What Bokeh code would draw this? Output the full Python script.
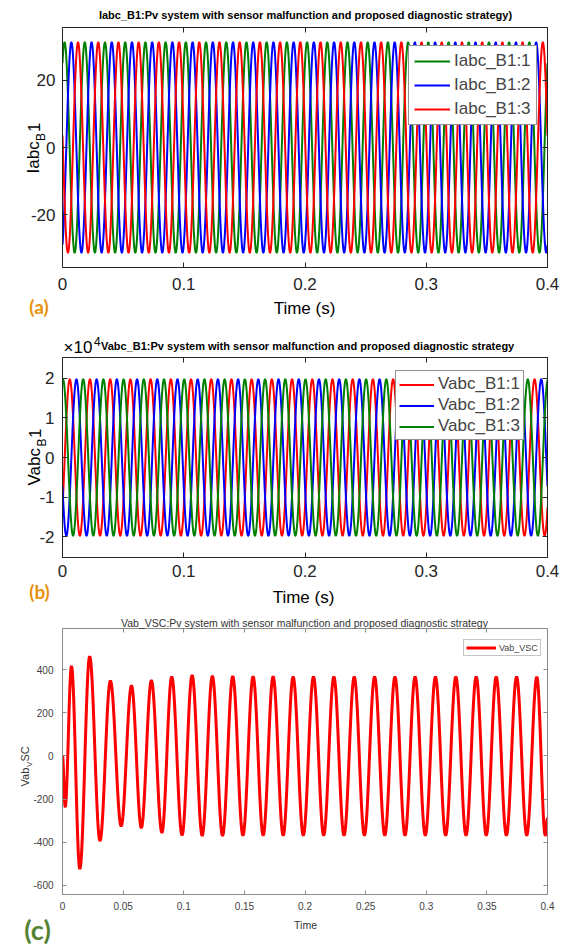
import numpy as np
from bokeh.plotting import figure
from bokeh.models import (Range1d, LinearAxis, Label, FixedTicker,
                          CustomJSTickFormatter, GridBox, Column)
from bokeh.embed import file_html
from bokeh.resources import INLINE

# ---------------- data ----------------
t_start_s = 0.0
t_end_s = 0.4
line_freq_hz = 60.0

# panel (a): three-phase currents
iabc_labels = ["Iabc_B1:1", "Iabc_B1:2", "Iabc_B1:3"]
iabc_amplitude = [31.2, 31.2, 31.2]
iabc_peak_time_s = [0.0017, 0.0073, 0.0128]

# panel (b): three-phase voltages (volts)
vabc_labels = ["Vabc_B1:1", "Vabc_B1:2", "Vabc_B1:3"]
vabc_amplitude = [19700.0, 19700.0, 19700.0]
vabc_peak_time_s = [0.0060, 0.0115, 0.0004]

# panel (c): Vab_VSC, read extremum by extremum
vab_label = "Vab_VSC"
vab_start_t, vab_start_v = 0.0, 0.0
vab_end_t, vab_end_v = 0.4, -290.0
vab_peak_t = [0.0074, 0.0224, 0.0395, 0.0569, 0.0733, 0.0901, 0.1069, 0.1236,
              0.1404, 0.1572, 0.1737, 0.1902, 0.2070, 0.2238, 0.2406, 0.2574,
              0.2742, 0.2908, 0.3076, 0.3244, 0.3412, 0.3577, 0.3745, 0.3912]
vab_peak_v = [415, 460, 347, 325, 349, 366, 373, 369, 368, 367, 367, 366,
              366, 366, 366, 366, 366, 366, 366, 366, 366, 366, 366, 365]
vab_trough_t = [0.0022, 0.0143, 0.0309, 0.0484, 0.0650, 0.0820, 0.0986, 0.1152,
                0.1320, 0.1488, 0.1655, 0.1820, 0.1986, 0.2154, 0.2322, 0.2490,
                0.2658, 0.2825, 0.2992, 0.3160, 0.3328, 0.3495, 0.3661, 0.3829,
                0.3982]
vab_trough_v = [-236, -523, -393, -325, -333, -355, -367, -369, -369, -368,
                -368, -368, -368, -368, -368, -368, -368, -368, -368, -368,
                -368, -368, -368, -368, -368]

# axes
x_ticks_ab = [0, 0.1, 0.2, 0.3, 0.4]
y_ticks_a = [-20, 0, 20]
y_ticks_b = [-2, -1, 0, 1, 2]
x_ticks_c = [0, 0.05, 0.1, 0.15, 0.2, 0.25, 0.3, 0.35, 0.4]
y_ticks_c = [-600, -400, -200, 0, 200, 400]
y_range_a = (-35.6, 35.6)
y_range_b = (-2.52, 2.52)
y_range_c = (-642.0, 590.0)
v_scale = 1e4

# ---------------- styles ----------------
FONT = "Liberation Sans"
W = 564
H_A, H_B, H_C = 318, 289, 340
H_ALL = H_A + H_B + H_C
col_a = ["#008000", "#0000FF", "#FF0000"]
col_b = ["#FF0000", "#0000FF", "#008000"]
col_c = "#FF0000"
orange = "#E8900C"
green_lab = "#548235"

t = np.linspace(t_start_s, t_end_s, 4001)


def sinusoid(amp, tpk):
    return amp * np.cos(2 * np.pi * line_freq_hz * (t - tpk))


def through_extrema(ts, vs, n=30):
    xs, ys = [], []
    for i in range(len(ts) - 1):
        s = np.linspace(0, 1, n, endpoint=False)
        xs.append(ts[i] + (ts[i + 1] - ts[i]) * s)
        ys.append(vs[i] + (vs[i + 1] - vs[i]) * (1 - np.cos(np.pi * s)) / 2)
    xs.append(np.array([ts[-1]]))
    ys.append(np.array([vs[-1]]))
    return np.concatenate(xs), np.concatenate(ys)


def make_panel(h, top, frame, xr, yr, xt, yt, axc, tick_font, tick_col,
               tick_len, xs_off, ys_off):
    L, T, R, B = frame
    p = figure(width=W, height=h, x_range=Range1d(*xr), y_range=Range1d(*yr),
               min_border_left=L, min_border_right=W - R,
               min_border_top=T - top, min_border_bottom=h - (B - top),
               toolbar_location=None, output_backend="svg", title=None)
    p.grid.visible = False
    p.background_fill_color = "white"
    p.border_fill_color = "white"
    p.outline_line_color = axc
    fmt = CustomJSTickFormatter(code="return String(tick);")
    blank = CustomJSTickFormatter(code="return '';")
    for ax, ticks, off in ((p.xaxis[0], xt, xs_off), (p.yaxis[0], yt, ys_off)):
        ax.ticker = FixedTicker(ticks=ticks)
        ax.formatter = fmt
        ax.major_label_text_font = FONT
        ax.major_label_text_font_size = tick_font
        ax.major_label_text_color = tick_col
        ax.major_label_standoff = off
        ax.major_tick_in = tick_len
        ax.major_tick_out = 0
        ax.minor_tick_line_color = None
        ax.axis_line_color = axc
        ax.major_tick_line_color = axc
    for side, ticks in (("above", xt), ("right", yt)):
        ax = LinearAxis(ticker=FixedTicker(ticks=ticks), formatter=blank,
                        major_label_text_font_size="1px",
                        major_label_standoff=0, major_tick_in=tick_len,
                        major_tick_out=0, minor_tick_line_color=None,
                        axis_line_color=axc, major_tick_line_color=axc)
        p.add_layout(ax, side)
    return p


def style_legend(p, loc, font, glyph_w, row_h, spacing, padding, standoff, border):
    lg = p.legend[0]
    lg.location = loc
    lg.label_text_font = FONT
    lg.label_text_font_size = font
    lg.glyph_width = glyph_w
    lg.glyph_height = row_h
    lg.label_height = row_h
    lg.spacing = spacing
    lg.padding = padding
    lg.margin = 0
    lg.label_standoff = standoff
    lg.border_line_color = border
    lg.border_line_width = 1
    lg.background_fill_color = "white"
    lg.background_fill_alpha = 1.0


# ---------------- panel (a) ----------------
fa = (62, 27, 547, 267)
pa = make_panel(H_A, 0, fa, (t_start_s, t_end_s), y_range_a, x_ticks_ab,
                y_ticks_a, "#262626", "17px", "#262626", 5, 10, 7)
for lab, amp, tpk, c in zip(iabc_labels, iabc_amplitude, iabc_peak_time_s, col_a):
    pa.line(t, sinusoid(amp, tpk), line_color=c, line_width=2, legend_label=lab)
style_legend(pa, (408 - fa[0], fa[3] - 125), "17px", 36, 20, 4, 5, 4, "#262626")

# ---------------- panel (b) ----------------
fb = (62, 357, 547, 557)
pb = make_panel(H_B, H_A, fb, (t_start_s, t_end_s), y_range_b, x_ticks_ab,
                y_ticks_b, "#262626", "17px", "#262626", 5, 7, 8)
for lab, amp, tpk, c in zip(vabc_labels, vabc_amplitude, vabc_peak_time_s, col_b):
    pb.line(t, sinusoid(amp, tpk) / v_scale, line_color=c, line_width=2, legend_label=lab)
style_legend(pb, (395 - fb[0], fb[3] - 440), "17px", 35, 19, 1, 3, 4, "#262626")

# ---------------- panel (c) ----------------
fc = (62, 628, 547, 894)
pc = make_panel(H_C, H_A + H_B, fc, (t_start_s, t_end_s), y_range_c, x_ticks_c,
                y_ticks_c, "#8c8c8c", "10px", "#404040", 4, 7, 9)
ext_t = [vab_start_t] + list(vab_peak_t) + list(vab_trough_t) + [vab_end_t]
ext_v = [vab_start_v] + list(vab_peak_v) + list(vab_trough_v) + [vab_end_v]
order = np.argsort(ext_t)
cx, cy = through_extrema(np.array(ext_t)[order], np.array(ext_v, dtype=float)[order])
pc.line(cx, cy, line_color=col_c, line_width=3, legend_label=vab_label)
style_legend(pc, (463 - fc[0], fc[3] - 656), "9px", 30, 11, 0, 2, 3, "#8c8c8c")

# ---------------- transparent text layer over the three panels ----------------
ov = figure(width=W, height=H_ALL, x_range=Range1d(0, W), y_range=Range1d(H_ALL, 0),
            x_axis_location=None, y_axis_location=None, min_border=0,
            toolbar_location=None, output_backend="svg", title=None)
ov.grid.visible = False
ov.outline_line_color = None
ov.background_fill_color = None
ov.border_fill_color = None

ROT = np.pi / 2


def text(px, py, s, size, color="#000000", bold=False, align="center",
         baseline="middle", angle=0.0, font=FONT):
    ov.add_layout(Label(x=px, y=py, text=s, text_font=font,
                        text_font_size=f"{size}px", text_color=color,
                        text_font_style="bold" if bold else "normal",
                        text_align=align, text_baseline=baseline, angle=angle))


# (a)
text(305, 14, "Iabc_B1:Pv system with sensor malfunction and proposed diagnostic strategy)", 11, bold=True)
text(33, 173, "Iabc", 17, align="left", baseline="alphabetic", angle=ROT)
text(40.5, 140.5, "B", 12, align="left", baseline="alphabetic", angle=ROT)
text(33, 131.5, "1", 17, align="left", baseline="alphabetic", angle=ROT)
text(304, 308, "Time (s)", 17)
text(38.5, 306, "(a)", 19, color=orange, bold=True, font="Lato")
# (b)
text(63, 347, "\u00d710", 17, align="left")
text(93.5, 341, "4", 12, align="left")
text(100.5, 345, "Vabc_B1:Pv system with sensor malfunction and proposed diagnostic strategy", 11, bold=True, align="left")
text(34, 485, "Vabc", 17, align="left", baseline="alphabetic", angle=ROT)
text(41.5, 446, "B", 12, align="left", baseline="alphabetic", angle=ROT)
text(34, 437.5, "1", 17, align="left", baseline="alphabetic", angle=ROT)
text(303, 597, "Time (s)", 17)
text(39, 591, "(b)", 19, color=orange, bold=True, font="Lato")
# (c)
text(304, 622, "Vab_VSC:Pv system with sensor malfunction and proposed diagnostic strategy", 10.5, color="#333333")
text(24, 786, "Vab", 11, color="#333333", align="left", baseline="alphabetic", angle=ROT)
text(28.5, 766.5, "V", 8, color="#333333", align="left", baseline="alphabetic", angle=ROT)
text(24, 761, "SC", 11, color="#333333", align="left", baseline="alphabetic", angle=ROT)
text(305, 924, "Time", 10.5, color="#333333")
text(37, 929, "(c)", 27, color=green_lab, bold=True, font="Lato")

# the text layer spans empty border tracks so its frame is not aligned with the panels
layout = GridBox(children=[(pa, 1, 1), (pb, 2, 1), (pc, 3, 1),
                           (Column(children=[ov]), 0, 0, 5, 3)],
                 spacing=0)
open("out.html", "w").write(file_html(layout, INLINE))
